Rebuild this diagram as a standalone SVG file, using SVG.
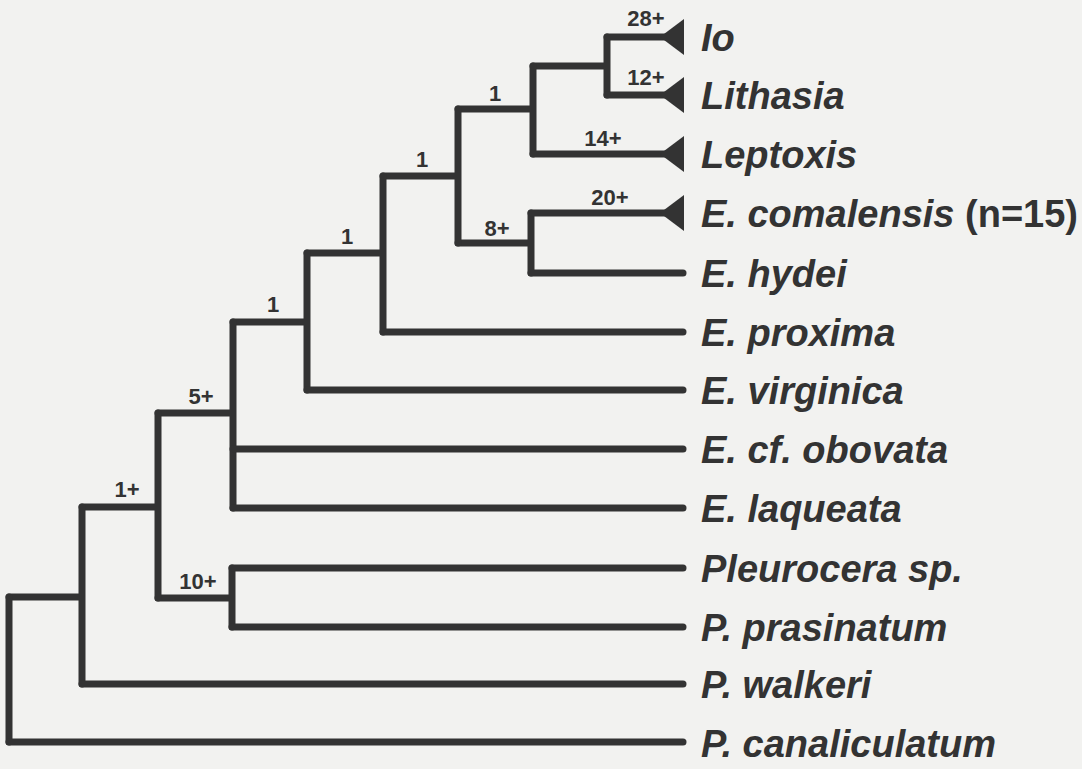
<svg xmlns="http://www.w3.org/2000/svg" width="1082" height="769" viewBox="0 0 1082 769">
<style>
.br{fill:none;stroke:#333;stroke-width:7;stroke-linecap:round;stroke-linejoin:round}
.tri{fill:#333}
.tx{font-family:"Liberation Sans",Arial,sans-serif;font-weight:bold;font-style:italic;font-size:38px;fill:#333}
.up{font-style:normal}
.sup{font-family:"Liberation Sans",Arial,sans-serif;font-weight:bold;font-size:22px;fill:#333;text-anchor:middle}
</style>
<rect width="1082" height="769" fill="#f2f2f0"/>
<g id="connectors" class="br">
<path d="M533 66H607M607 37V95"/>
<path d="M458 109H533M533 66V154"/>
<path d="M458 243H531M531 213V273"/>
<path d="M383 176H458M458 109V243"/>
<path d="M307 253H383M383 176V332"/>
<path d="M233 322H307M307 253V390"/>
<path d="M158 413H233M233 322V508"/>
<path d="M158 598H232M232 568V627"/>
<path d="M82 507H158M158 413V598"/>
<path d="M9 597H82M82 507V684"/>
<path d="M9 597V742"/>
</g>
<g id="leaf-io"><path class="br" d="M607 37H668"/><polygon class="tri" points="660,37 684,19 684,55"/><text class="tx" x="701" y="51">Io</text></g>
<g id="leaf-lithasia"><path class="br" d="M607 95H668"/><polygon class="tri" points="660,95 684,77 684,113"/><text class="tx" x="701" y="109">Lithasia</text></g>
<g id="leaf-leptoxis"><path class="br" d="M533 154H668"/><polygon class="tri" points="660,154 684,136 684,172"/><text class="tx" x="701" y="168">Leptoxis</text></g>
<g id="leaf-comalensis"><path class="br" d="M531 213H668"/><polygon class="tri" points="660,213 684,195 684,231"/><text class="tx" x="701" y="227">E. comalensis <tspan class="up">(n=15)</tspan></text></g>
<g id="leaf-hydei"><path class="br" d="M531 273H683"/><text class="tx" x="701" y="287">E. hydei</text></g>
<g id="leaf-proxima"><path class="br" d="M383 332H683"/><text class="tx" x="701" y="346">E. proxima</text></g>
<g id="leaf-virginica"><path class="br" d="M307 390H683"/><text class="tx" x="701" y="404">E. virginica</text></g>
<g id="leaf-obovata"><path class="br" d="M233 449H683"/><text class="tx" x="701" y="463">E. cf. obovata</text></g>
<g id="leaf-laqueata"><path class="br" d="M233 508H683"/><text class="tx" x="701" y="522">E. laqueata</text></g>
<g id="leaf-pleurocera"><path class="br" d="M232 568H683"/><text class="tx" x="701" y="582">Pleurocera sp.</text></g>
<g id="leaf-prasinatum"><path class="br" d="M232 627H683"/><text class="tx" x="701" y="641">P. prasinatum</text></g>
<g id="leaf-walkeri"><path class="br" d="M82 684H683"/><text class="tx" x="701" y="698">P. walkeri</text></g>
<g id="leaf-canaliculatum"><path class="br" d="M9 742H683"/><text class="tx" x="701" y="757">P. canaliculatum</text></g>
<g id="support-labels">
<text class="sup" x="646" y="26">28+</text>
<text class="sup" x="646" y="85">12+</text>
<text class="sup" x="603" y="146">14+</text>
<text class="sup" x="495" y="101">1</text>
<text class="sup" x="610" y="205">20+</text>
<text class="sup" x="497" y="236">8+</text>
<text class="sup" x="422" y="167">1</text>
<text class="sup" x="347" y="244">1</text>
<text class="sup" x="273" y="312">1</text>
<text class="sup" x="201" y="404">5+</text>
<text class="sup" x="127" y="497">1+</text>
<text class="sup" x="198" y="589">10+</text>
</g>
</svg>
